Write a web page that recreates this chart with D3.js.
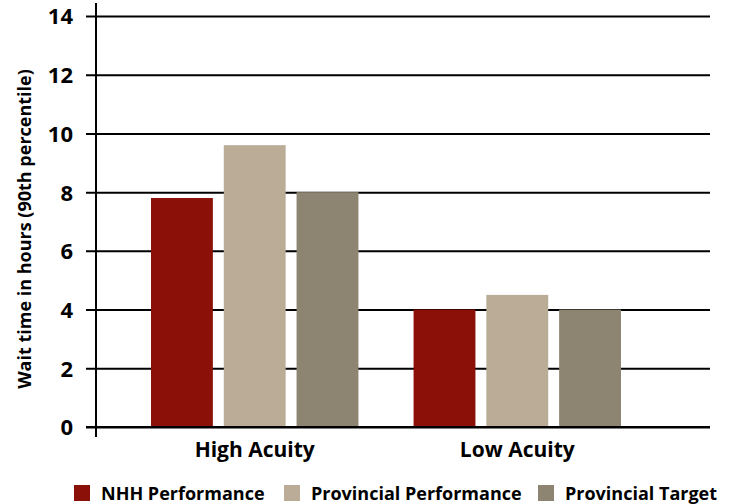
<!DOCTYPE html>
<html>
<head>
<meta charset="utf-8">
<script src="https://cdn.jsdelivr.net/npm/d3@7"></script>
<style>
  html, body { margin: 0; padding: 0; background: #fff; }
  svg text { font-family: "Open Sans", "DejaVu Sans", sans-serif; font-weight: 700; fill: #000; }
</style>
</head>
<body>
<svg id="chart" width="735" height="504"></svg>
<script>
// Wait times (90th percentile, hours) by acuity level
const categories = ["High Acuity", "Low Acuity"];
const seriesNames = ["NHH Performance", "Provincial Performance", "Provincial Target"];
const nhhPerformance = [7.8, 4.0];
const provincialPerformance = [9.6, 4.5];
const provincialTarget = [8.0, 4.0];
const yTicks = [0, 2, 4, 6, 8, 10, 12, 14];
const colors = ["#8b1007", "#baac97", "#8d8472"];

const seriesValues = [nhhPerformance, provincialPerformance, provincialTarget];
const rows = categories.map((c, i) => ({
  category: c,
  values: seriesNames.map((s, j) => ({ series: s, value: seriesValues[j][i], color: colors[j] }))
}));

const svg = d3.select("#chart");
const plot = { left: 96, right: 710, top: 16, bottom: 427 };

const y = d3.scaleLinear().domain([0, 14]).range([plot.bottom, plot.top]);

const x0 = d3.scaleBand()
  .domain(categories)
  .range([151, 621])
  .paddingInner(0.21)
  .paddingOuter(0);

const x1 = d3.scaleBand()
  .domain(seriesNames)
  .range([0, x0.bandwidth()])
  .paddingInner(0.15)
  .paddingOuter(0);

// Gridlines, with ticks reaching left of the axis
const gy = svg.append("g")
  .attr("transform", `translate(${plot.left},0)`)
  .call(d3.axisLeft(y).tickValues(yTicks).tickFormat(d3.format("d")));
gy.select(".domain").remove();
gy.selectAll(".tick line")
  .attr("x1", -10)
  .attr("x2", plot.right - plot.left)
  .attr("stroke", "#000")
  .attr("stroke-width", 2);
gy.selectAll(".tick text")
  .attr("x", -23)
  .attr("dy", "0.36em")
  .attr("fill", "#000")
  .style("font-size", "22px")
  .style("font-family", "'Open Sans', sans-serif")
  .style("font-weight", 700);

// Bars
const groups = svg.append("g").selectAll("g")
  .data(rows)
  .join("g")
  .attr("transform", d => `translate(${x0(d.category)},0)`);

groups.selectAll("rect")
  .data(d => d.values)
  .join("rect")
  .attr("x", d => x1(d.series))
  .attr("width", x1.bandwidth())
  .attr("y", d => y(d.value))
  .attr("height", d => y(0) - y(d.value))
  .attr("fill", d => d.color);

// Baseline over the bars
svg.append("line")
  .attr("x1", plot.left - 10).attr("x2", plot.right)
  .attr("y1", y(0)).attr("y2", y(0))
  .attr("stroke", "#000").attr("stroke-width", 2);

// Vertical axis line
svg.append("line")
  .attr("x1", plot.left).attr("x2", plot.left)
  .attr("y1", plot.top - 13).attr("y2", plot.bottom + 10)
  .attr("stroke", "#000").attr("stroke-width", 2);

// Category labels
svg.append("g").selectAll("text")
  .data(categories)
  .join("text")
  .attr("x", d => x0(d) + x0.bandwidth() / 2)
  .attr("y", 457)
  .attr("text-anchor", "middle")
  .style("font-size", "21px")
  .text(d => d);

// Y axis title
svg.append("text")
  .attr("transform", `translate(31, 229) rotate(-90)`)
  .attr("text-anchor", "middle")
  .style("font-size", "18px")
  .text("Wait time in hours (90th percentile)");

// Legend
const legendX = [74, 284, 538];
const legend = svg.append("g").selectAll("g")
  .data(seriesNames)
  .join("g")
  .attr("transform", (d, i) => `translate(${legendX[i]}, 485)`);
legend.append("rect")
  .attr("width", 16).attr("height", 16)
  .attr("fill", (d, i) => colors[i]);
legend.append("text")
  .attr("x", 27).attr("y", 15)
  .style("font-size", "18px")
  .text(d => d);
</script>
</body>
</html>
